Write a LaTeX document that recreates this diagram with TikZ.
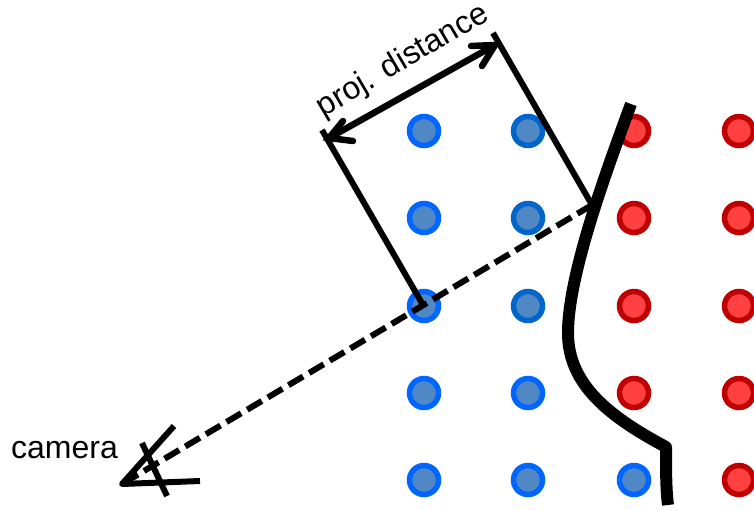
\documentclass[tikz,border=0pt]{standalone}
\usepackage{fontspec}
\setmainfont{Liberation Sans}
\definecolor{bluefill}{HTML}{4F88C4}
\definecolor{bluering}{HTML}{0066FF}
\definecolor{bluedark}{HTML}{0066CC}
\definecolor{redfill}{HTML}{FF4040}
\definecolor{redring}{HTML}{C00000}
\tikzset{
  dotnode/.style={circle,inner sep=0pt,minimum size=29pt,line width=5.5pt},
  bdot/.style={dotnode,draw=bluering,fill=bluefill},
  ddot/.style={dotnode,draw=bluedark,fill=bluefill},
  rdot/.style={dotnode,draw=redring,fill=redfill},
  thin line/.style={line width=6pt,black},
  proj dash/.style={line width=6pt,black,dash pattern=on 17pt off 7pt},
  boundary/.style={line width=12pt,black,line join=round},
  lab/.style={inner sep=0pt,font=\fontsize{32}{32}\selectfont},
  barb/.style={line width=6.5pt,black,line cap=round,line join=miter}
}
\begin{document}
\begin{tikzpicture}[x=1pt,y=-1pt]
\useasboundingbox (0,0) rectangle (754,510);
% dots
\foreach \n/\x/\y/\s in {
 a1/424/131/bdot,a2/424/218/bdot,a3/424/306/bdot,a4/424/393/bdot,a5/424/480/bdot,
 b1/528/131/ddot,b2/528/218/ddot,b3/528/306/ddot,b4/528/393/bdot,b5/528/480/bdot,
 c1/634/131/rdot,c2/634/218/rdot,c3/634/306/rdot,c4/634/393/rdot,c5/634/480/bdot,
 d1/739/131/rdot,d2/739/218/rdot,d3/739/306/rdot,d4/739/393/rdot,d5/739/480/rdot}
 {\node[\s] (\n) at (\x,\y) {};}
% projection lines
\coordinate (p0) at (322,130);
\coordinate (p1) at (423,305);
\coordinate (q0) at (493,33);
\coordinate (q1) at (592,205);
\coordinate (r0) at (329,138);
\coordinate (r1) at (495,45);
\coordinate (r0a) at (343,121);
\coordinate (r0b) at (353,141);
\coordinate (r1a) at (471,46);
\coordinate (r1b) at (482,66);
\coordinate (cam) at (122,484);
\coordinate (cam1) at (174,426);
\coordinate (cam2) at (200,481);
\coordinate (cam3) at (142,443);
\coordinate (cam4) at (167,496);
\draw[thin line] (p0) -- (p1);
\draw[thin line] (q0) -- (q1);
\draw[barb] (r0) -- (r1);
\draw[barb] (r0a) -- (r0) -- (r0b);
\draw[barb] (r1a) -- (r1) -- (r1b);
\draw[proj dash] (q1) -- (cam);
% camera
\draw[thin line,line join=round] (cam1) -- (cam) -- (cam2);
\draw[thin line] (cam3) -- (cam4);
% boundary
\coordinate (b0) at (631,104);
\coordinate (bk) at (666,447);
\coordinate (be) at (668,505);
\draw[boundary] (b0) .. controls (606,172) and (568,275) .. (568,333)
  .. controls (568,385) and (610,417) .. (bk) .. controls (666,470) and (666,490) .. (be);
% labels
\node[lab,anchor=base west] (cameralabel) at (11,458) {camera};
\node[lab,rotate=30.5] (projlabel) at (403,61) {proj. distance};
\end{tikzpicture}
\end{document}
